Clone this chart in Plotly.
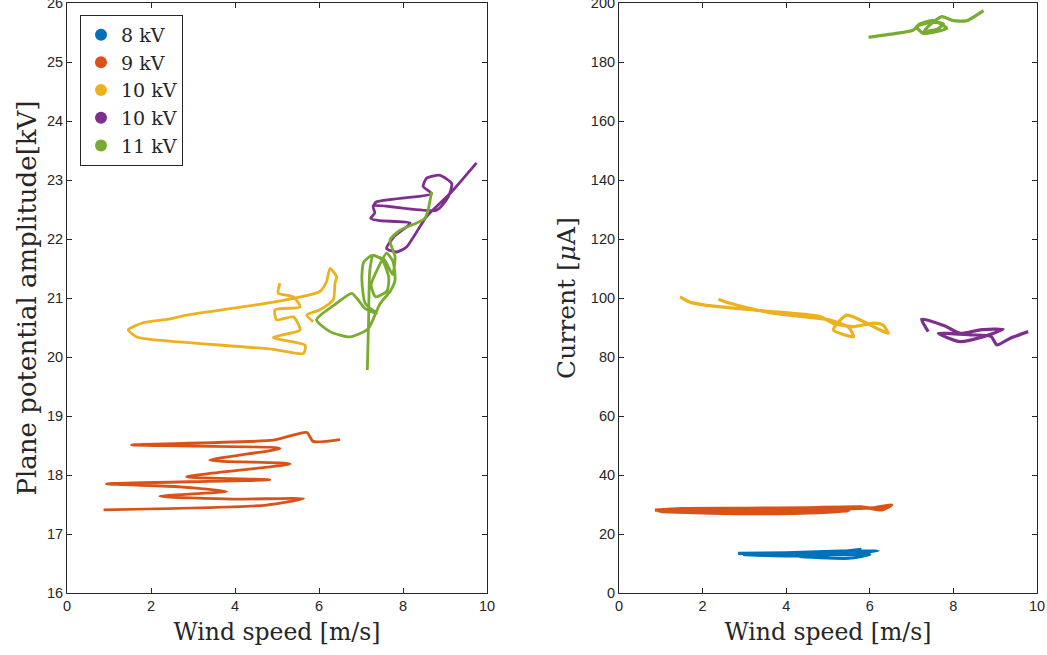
import plotly.graph_objects as go

# ---------------- data ----------------
names = ["8 kV", "9 kV", "10 kV", "10 kV", "11 kV"]
colors = ["#0072BD", "#D95319", "#EDB120", "#7E2F8E", "#77AC30"]

# Left panel: wind speed [m/s] vs plane potential amplitude [kV]
amp_8_x = [2.85, 4.0, 5.5, 6.2]
amp_8_y = [15.2, 15.3, 15.4, 15.3]   # below the visible range

amp_9_x = [0.87, 4.75, 5.63, 3.96, 2.21, 3.80, 2.69, 0.94, 4.83, 2.85, 5.31, 3.40, 5.07,
           1.54, 4.91, 5.71, 5.86, 6.50]
amp_9_y = [17.41, 17.49, 17.60, 17.59, 17.64, 17.72, 17.80, 17.85, 17.92, 17.97, 18.19, 18.25,
           18.45, 18.51, 18.59, 18.72, 18.57, 18.60]

amp_10a_x = [5.07, 5.03, 5.39, 5.55, 4.95, 4.99, 5.39, 5.55, 4.91, 5.67, 5.63, 4.91, 2.10,
             1.66, 1.46, 1.81, 2.41, 2.85, 4.99, 6.02, 6.18, 6.26, 6.42, 6.38, 6.34, 6.02,
             5.71, 5.86]
amp_10a_y = [21.25, 21.08, 21.02, 20.85, 20.80, 20.63, 20.68, 20.46, 20.33, 20.20, 20.06,
             20.13, 20.29, 20.34, 20.46, 20.58, 20.64, 20.71, 20.94, 21.11, 21.28, 21.50,
             21.36, 21.25, 20.97, 20.80, 20.71, 20.60]

amp_10b_x = [9.75, 9.12, 8.56, 8.09, 7.85, 7.61, 7.80, 8.17, 7.45, 7.23, 7.33, 7.29, 8.80,
             9.08, 9.16, 8.88, 8.56, 8.48, 8.68, 7.37, 7.29]
amp_10b_y = [23.29, 22.77, 22.38, 21.87, 21.78, 21.84, 22.05, 22.27, 22.31, 22.35, 22.44,
             22.56, 22.49, 22.72, 22.94, 23.08, 23.03, 22.89, 22.77, 22.63, 22.56]

amp_11_x = [7.15, 7.18, 7.21, 7.29, 7.50, 7.66, 7.62, 7.35, 7.24, 7.40, 7.61, 7.76, 7.81,
            7.70, 7.45, 7.17, 6.74, 6.26, 5.94, 6.40, 6.78, 6.95, 7.10, 7.37, 7.10, 7.02,
            7.06, 7.25, 7.55, 7.75, 7.81, 7.69, 7.93, 8.52, 8.68]
amp_11_y = [19.78, 20.60, 21.47, 21.72, 21.65, 21.35, 21.12, 21.02, 21.22, 21.50, 21.76,
            21.62, 21.30, 21.12, 20.90, 20.48, 20.34, 20.43, 20.63, 20.90, 21.08, 20.95,
            20.82, 20.74, 20.91, 21.31, 21.60, 21.72, 21.65, 21.40, 21.70, 21.98, 22.15,
            22.35, 22.80]

# Right panel: wind speed [m/s] vs current [uA]
cur_8_x = [2.85, 4.0, 5.5, 6.2, 5.6, 4.3, 5.5, 6.0, 4.5, 3.0, 4.2, 5.8]
cur_8_y = [13.4, 13.6, 14.3, 14.3, 13.5, 12.4, 11.8, 13.0, 13.0, 13.0, 12.6, 14.8]

cur_9_x = [0.86, 1.5, 3.0, 4.5, 5.8, 6.30, 6.52, 6.1, 4.0, 2.0, 1.0, 2.9, 4.2, 5.5, 3.2,
           1.6, 0.95, 2.5, 4.8]
cur_9_y = [28.1, 28.6, 28.7, 28.9, 29.2, 28.2, 29.8, 28.9, 28.2, 27.9, 27.6, 26.9, 27.0,
           27.8, 27.2, 27.8, 27.8, 28.3, 28.5]

cur_10a_x = [1.46, 1.70, 2.06, 3.50, 4.81, 5.13, 5.61, 6.10, 6.32, 6.44, 6.20, 5.45, 5.13,
             5.61, 5.50, 5.05, 3.60, 2.66, 2.38]
cur_10a_y = [100.4, 98.6, 97.6, 95.6, 93.7, 91.4, 90.3, 91.5, 90.8, 88.0, 89.5, 94.2, 89.2,
             86.9, 90.0, 92.5, 95.0, 98.2, 99.6]

cur_10b_x = [7.40, 7.24, 7.80, 8.16, 8.64, 9.19, 8.72, 8.16, 7.64, 8.40, 8.90, 9.04, 9.35,
             9.79]
cur_10b_y = [88.6, 92.8, 90.5, 88.0, 89.2, 89.4, 86.9, 85.2, 88.0, 87.5, 87.0, 84.1, 86.3,
             88.6]

cur_11_x = [5.97, 6.60, 7.04, 7.20, 7.52, 7.84, 7.28, 7.12, 7.50, 7.76, 7.60, 7.30, 7.72,
            8.00, 8.32, 8.72]
cur_11_y = [188.4, 189.6, 190.8, 192.9, 194.0, 191.4, 189.7, 192.0, 193.5, 192.9, 191.0,
            190.5, 195.4, 194.0, 194.0, 197.4]

left_series = [(amp_8_x, amp_8_y), (amp_9_x, amp_9_y), (amp_10a_x, amp_10a_y),
               (amp_10b_x, amp_10b_y), (amp_11_x, amp_11_y)]
right_series = [(cur_8_x, cur_8_y), (cur_9_x, cur_9_y), (cur_10a_x, cur_10a_y),
                (cur_10b_x, cur_10b_y), (cur_11_x, cur_11_y)]

x_ticks = [0, 2, 4, 6, 8, 10]
left_y_ticks = list(range(16, 27))
right_y_ticks = list(range(0, 201, 20))

# ---------------- figure ----------------
fig = go.Figure()
for (x, y), c in zip(left_series, colors):
    fig.add_trace(go.Scatter(x=x, y=y, mode="lines",
                             line=dict(color=c, width=2.8, shape="spline", smoothing=0.6),
                             showlegend=False, xaxis="x", yaxis="y", hoverinfo="skip"))
for (x, y), c in zip(right_series, colors):
    fig.add_trace(go.Scatter(x=x, y=y, mode="lines",
                             line=dict(color=c, width=3.2, shape="spline", smoothing=0.6),
                             showlegend=False, xaxis="x2", yaxis="y2", hoverinfo="skip"))
# legend entries
for n, c in zip(names, colors):
    fig.add_trace(go.Scatter(x=[None], y=[None], mode="markers", name=n,
                             marker=dict(color=c, size=14, symbol="circle"),
                             xaxis="x", yaxis="y"))

axis_common = dict(showline=True, linecolor="#262626", linewidth=1, mirror="ticks",
                   ticks="inside", ticklen=5, tickcolor="#262626", showgrid=False,
                   zeroline=False, automargin=False, ticklabeloverflow="allow",
                   tickfont=dict(family="Liberation Sans, Arial", size=14.5, color="#262626"))
x_title_font = dict(family="DejaVu Serif", size=23.5, color="#262626")
y_title_font = dict(family="DejaVu Serif", size=26, color="#262626")

fig.update_layout(
    width=1047, height=655,
    margin=dict(l=67, r=10, t=3, b=62),
    paper_bgcolor="white", plot_bgcolor="white",
    xaxis=dict(domain=[0, 0.433], range=[0, 10], tickvals=x_ticks,
               title=dict(text="Wind speed [m/s]", font=x_title_font, standoff=10),
               **axis_common),
    yaxis=dict(range=[16, 26], tickvals=left_y_ticks,
               title=dict(text="Plane potential amplitude[kV]", font=y_title_font, standoff=2),
               **axis_common),
    xaxis2=dict(domain=[0.569, 1], range=[0, 10], tickvals=x_ticks, anchor="y2",
                title=dict(text="Wind speed [m/s]", font=x_title_font, standoff=10),
                **axis_common),
    yaxis2=dict(range=[0, 200], tickvals=right_y_ticks, anchor="x2",
                title=dict(text="Current [<i>μ</i>A]", font=dict(y_title_font, size=25),
                           standoff=8),
                **axis_common),
    legend=dict(x=0.0134, y=0.98, xanchor="left", yanchor="top",
                bordercolor="#262626", borderwidth=1, bgcolor="white",
                font=dict(family="DejaVu Serif", size=19, color="#262626"),
                itemsizing="constant", tracegroupgap=0),
    showlegend=True,
)

fig.write_html("out.html", config={"displayModeBar": False},
               post_script="document.body.style.margin='0';document.body.style.overflow='hidden';")
